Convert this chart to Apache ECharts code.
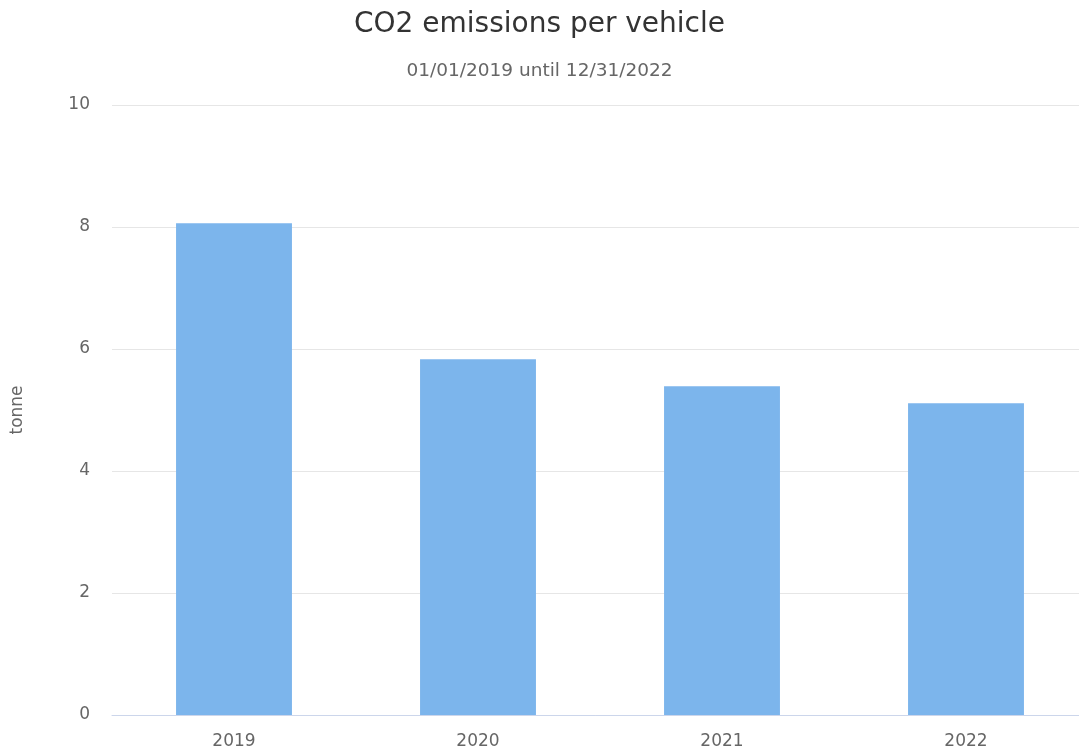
<!DOCTYPE html>
<html>
<head>
<meta charset="utf-8">
<script src="https://cdn.jsdelivr.net/npm/echarts@6/dist/echarts.min.js"></script>
<style>
  html, body { margin: 0; padding: 0; background: #fff; }
  #chart { width: 1079px; height: 749px; }
</style>
</head>
<body>
<div id="chart"></div>
<script>
const years = ["2019", "2020", "2021", "2022"];
const emissions = [8.06, 5.83, 5.39, 5.11];
const yTicks = { min: 0, max: 10, interval: 2 };

const FONT = "'DejaVu Sans', Verdana, sans-serif";

const chart = echarts.init(document.getElementById("chart"));
chart.setOption({
  textStyle: { fontFamily: FONT },
  title: {
    text: "CO2 emissions per vehicle",
    subtext: "01/01/2019 until 12/31/2022",
    left: "center",
    top: 6,
    itemGap: 23,
    textStyle: { color: "#333333", fontSize: 28, fontWeight: "normal", fontFamily: FONT },
    subtextStyle: { color: "#666666", fontSize: 18.5, fontFamily: FONT },
  },
  grid: { left: 112, right: -9, top: 105, bottom: 34, outerBoundsMode: "none", containLabel: false },
  xAxis: {
    type: "category",
    data: years,
    axisLine: { lineStyle: { color: "#ccd6eb", width: 1 } },
    axisTick: { show: false },
    axisLabel: { color: "#666666", fontSize: 17, margin: 18, fontFamily: FONT },
  },
  yAxis: {
    type: "value",
    min: yTicks.min,
    max: yTicks.max,
    interval: yTicks.interval,
    name: "tonne",
    nameLocation: "middle",
    nameGap: 86,
    nameRotate: 90,
    nameTextStyle: { color: "#666666", fontSize: 17, fontFamily: FONT },
    axisLine: { show: false },
    axisTick: { show: false },
    axisLabel: { color: "#666666", fontSize: 17, margin: 22, fontFamily: FONT },
    splitLine: { lineStyle: { color: "#e6e6e6", width: 1 } },
  },
  series: [
    {
      type: "bar",
      data: emissions,
      barWidth: "47.5%",
      itemStyle: { color: "#7cb5ec" },
    },
  ],
});
</script>
</body>
</html>
